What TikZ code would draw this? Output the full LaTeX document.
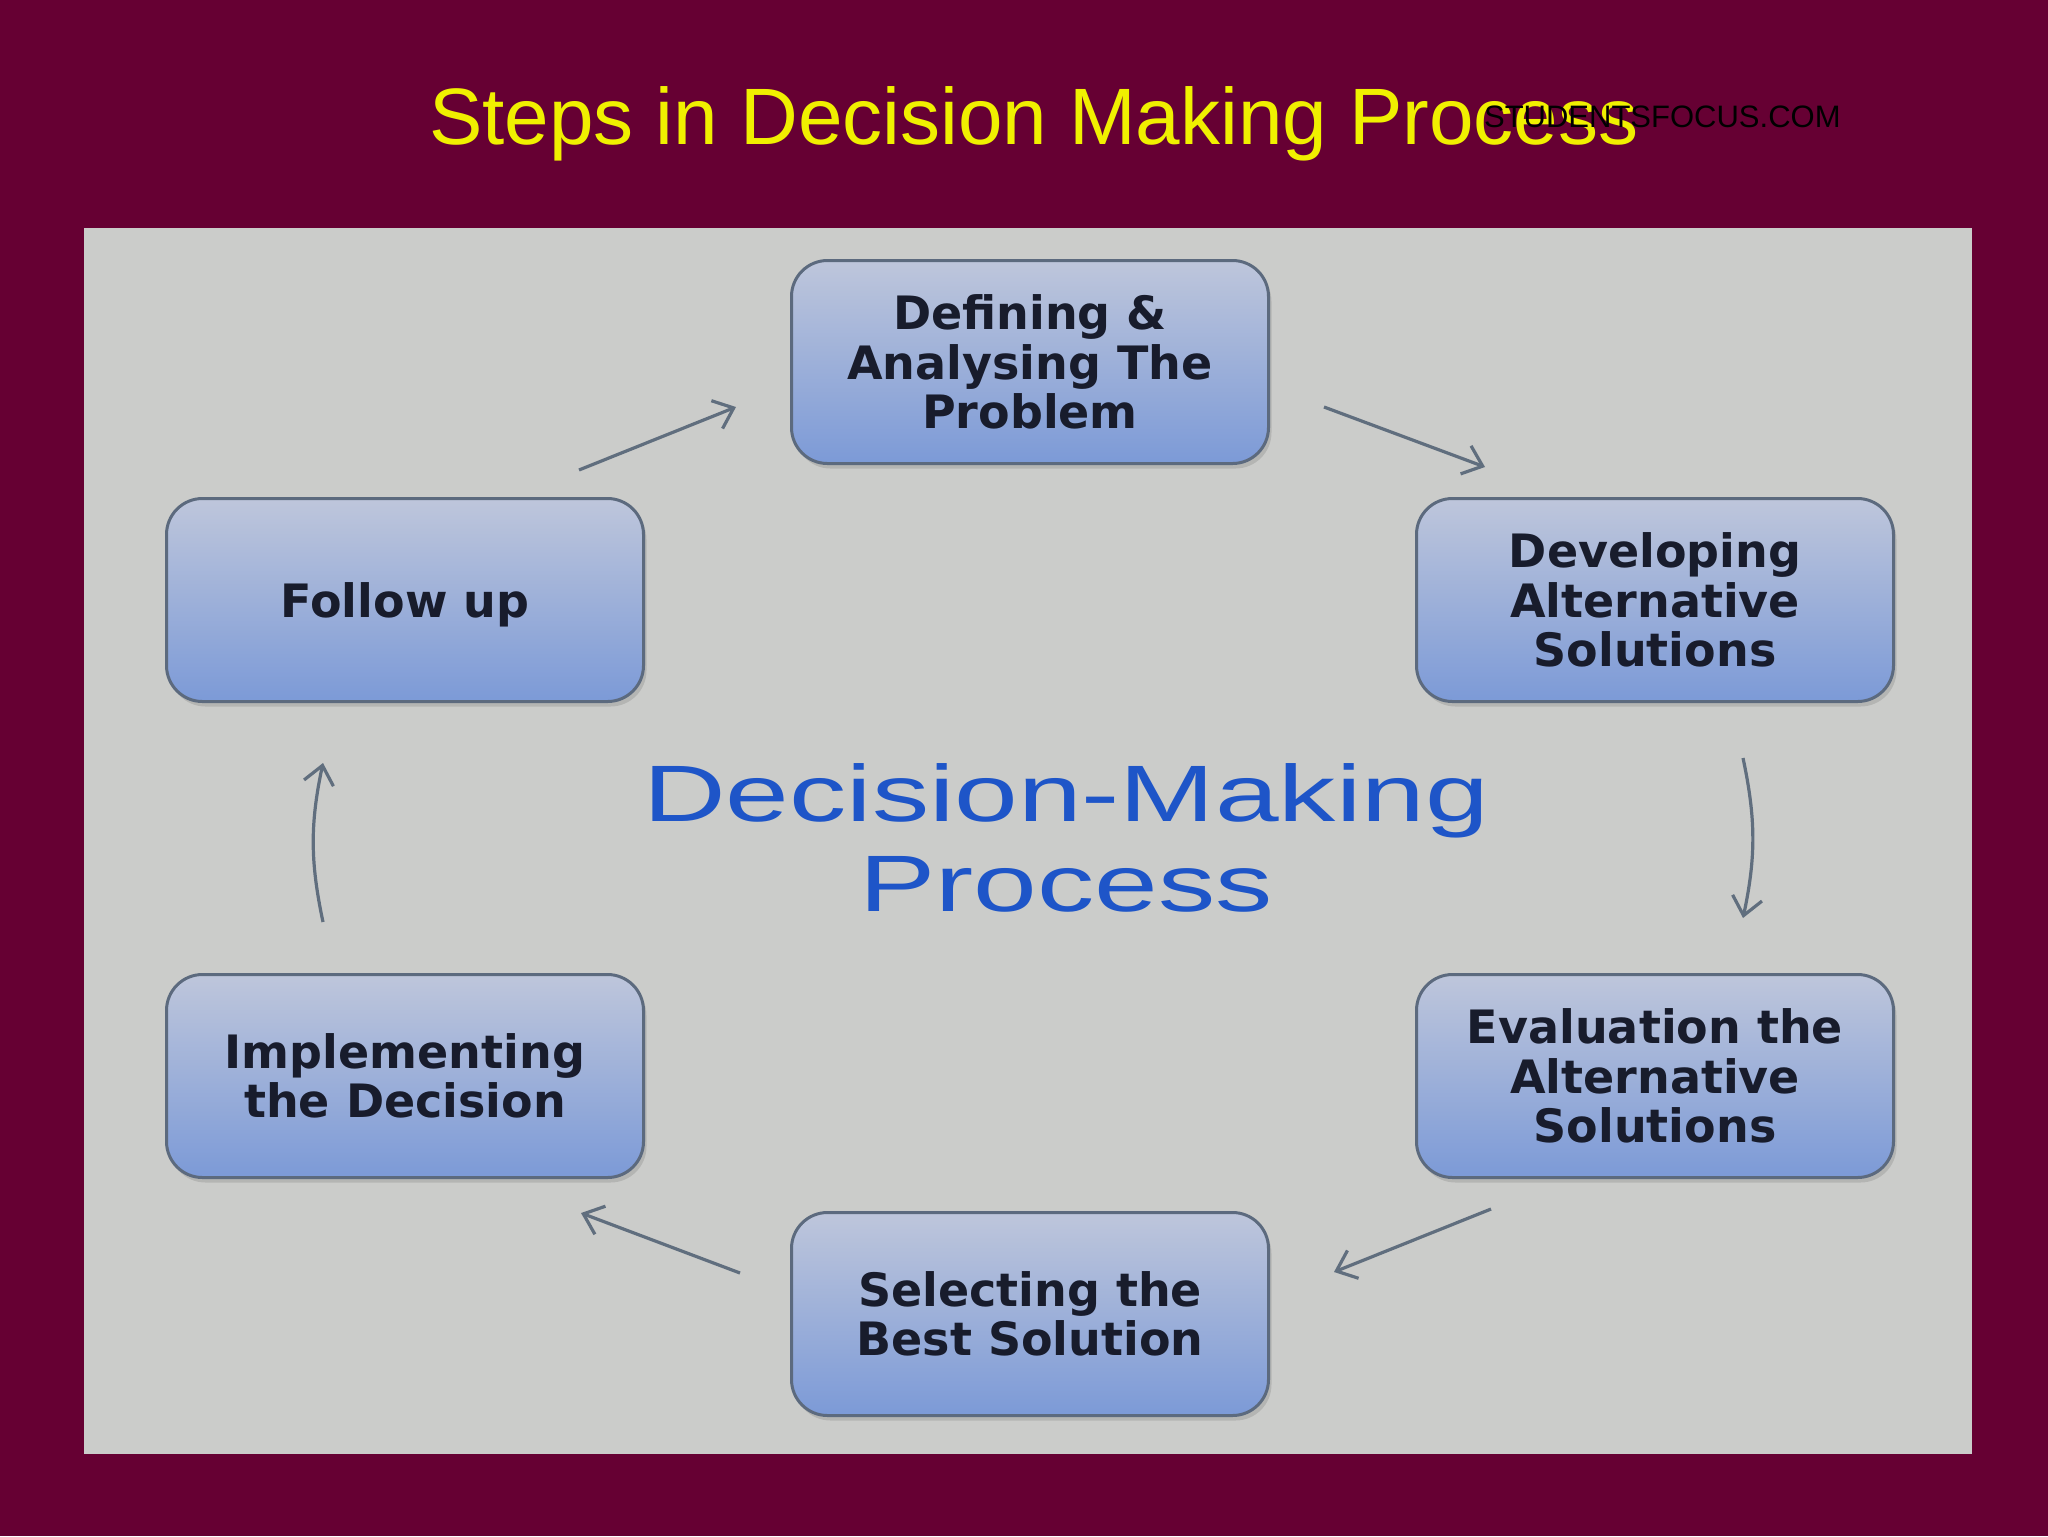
\documentclass[tikz,border=0pt]{standalone}
\usepackage{fontspec}
\usepackage{graphicx}
\setmainfont{Liberation Sans}
\newfontfamily\boxfont{DejaVu Sans}
\usetikzlibrary{matrix,arrows.meta,shadows}

\definecolor{slidebg}{RGB}{102,0,51}
\definecolor{panelgray}{RGB}{203,204,202}
\definecolor{titleyellow}{RGB}{240,240,0}
\definecolor{processblue}{RGB}{30,85,200}
\definecolor{boxtop}{RGB}{190,198,219}
\definecolor{boxbottom}{RGB}{124,154,215}
\definecolor{boxedge}{RGB}{92,106,126}
\definecolor{boxtext}{RGB}{24,28,44}
\definecolor{arrowgray}{RGB}{96,110,126}

\newcommand{\steplines}[1]{\raisebox{-3.5pt}[\height][\depth]{\begin{tabular}{@{}c@{}}#1\end{tabular}}}

\tikzset{
  stepbox/.style={draw=boxedge, line width=1.5pt, rounded corners=18pt,
    top color=boxtop, bottom color=boxbottom,
    minimum width=238.5pt, minimum height=101.5pt,
    text=boxtext, font=\boxfont\bfseries\fontsize{23}{24}\selectfont,
    drop shadow={opacity=0.3, shadow xshift=1.5pt, shadow yshift=-2.5pt}},
  flow/.style={draw=arrowgray, line width=1.6pt, -{Straight Barb[length=9pt,width=15pt]}}
}

\begin{document}
\begin{tikzpicture}[x=0.5pt, y=-0.5pt]
\fill[slidebg] (0,0) rectangle (2048,1536);
\useasboundingbox (0,0) rectangle (2048,1536);
\fill[panelgray] (84,228) rectangle (1972,1454);

\node[anchor=base west, text=titleyellow, font=\fontsize{40}{48}\selectfont] (title) at (422,144)
{Steps in Decision Making Process};
\node[anchor=base west, font=\fontsize{15.5}{18}\selectfont] (mark) at (1477,127)
{STUDENTSFOCUS.COM};

\matrix[matrix of nodes, nodes={stepbox, anchor=center},
  column sep={312.5pt,between origins}, row sep={119pt,between origins}] (mat) at (1030,838)
{
  & \steplines{Defining \&\\ Analysing The\\ Problem} & \\
  \steplines{Follow up} & & \steplines{Developing\\ Alternative\\ Solutions} \\
  & & \\
  \steplines{Implementing\\ the Decision} & & \steplines{Evaluation the\\ Alternative\\ Solutions} \\
  & \steplines{Selecting the\\ Best Solution} & \\
};

\draw[flow] ([xshift=-33pt,yshift=13.5pt]mat-2-1.north east) -- ([xshift=-27pt,yshift=-22.5pt]mat-1-2.west);
\draw[flow] ([xshift=27pt,yshift=-22.5pt]mat-1-2.east) -- ([xshift=35pt,yshift=15pt]mat-2-3.north west);
\draw[flow] ([xshift=44pt,yshift=-27.5pt]mat-2-3.south) to[bend left=12] ([xshift=44pt,yshift=27.5pt]mat-4-3.north);
\draw[flow] ([xshift=38pt,yshift=-15pt]mat-4-3.south west) -- ([xshift=32pt,yshift=21pt]mat-5-2.east);
\draw[flow] ([xshift=-25pt,yshift=20.5pt]mat-5-2.west) -- ([xshift=-32pt,yshift=-17pt]mat-4-1.south east);
\draw[flow] ([xshift=-41pt,yshift=25.5pt]mat-4-1.north) to[bend left=12] ([xshift=-41pt,yshift=-30pt]mat-2-1.south);

\node[text=processblue, align=center, font=\fontsize{40}{45}\selectfont] (centre) at ([xshift=18pt]mat.center)
{\scalebox{1.43}[1]{Decision-Making}\\ \scalebox{1.43}[1]{Process}};

\end{tikzpicture}
\end{document}
